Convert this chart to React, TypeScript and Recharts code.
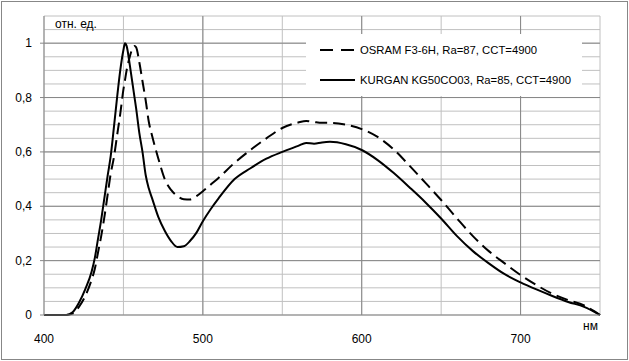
import React from 'react';
import { LineChart, Line, XAxis, YAxis, CartesianGrid, ReferenceLine, Legend, Label } from 'recharts';

const wavelengths = [400, 405, 410, 414, 418, 422, 426, 430, 432, 434, 436, 438, 440, 442, 444, 446, 448, 450, 451, 452, 454, 456, 457, 458, 460, 462, 464, 466, 468, 472, 476, 480, 484, 488, 492, 496, 500, 505, 510, 520, 530, 540, 550, 560, 565, 570, 575, 580, 590, 600, 610, 620, 630, 640, 650, 660, 670, 680, 690, 700, 710, 720, 730, 740, 750];
const osram = [0, 0, 0, 0, 0.005, 0.03, 0.07, 0.13, 0.17, 0.23, 0.29, 0.36, 0.44, 0.52, 0.58, 0.66, 0.74, 0.83, 0.865, 0.9, 0.95, 0.985, 0.99, 0.985, 0.93, 0.86, 0.79, 0.71, 0.66, 0.575, 0.5, 0.46, 0.437, 0.426, 0.425, 0.437, 0.455, 0.48, 0.505, 0.56, 0.607, 0.65, 0.688, 0.708, 0.714, 0.71, 0.707, 0.707, 0.7, 0.684, 0.655, 0.61, 0.55, 0.487, 0.423, 0.355, 0.29, 0.235, 0.19, 0.147, 0.11, 0.078, 0.055, 0.035, 0];
const kurgan = [0, 0, 0, 0, 0.01, 0.045, 0.095, 0.16, 0.21, 0.28, 0.35, 0.43, 0.51, 0.585, 0.69, 0.8, 0.9, 0.975, 1.0, 0.99, 0.92, 0.84, 0.8, 0.76, 0.67, 0.6, 0.515, 0.465, 0.43, 0.36, 0.31, 0.272, 0.25, 0.253, 0.273, 0.303, 0.345, 0.39, 0.43, 0.5, 0.54, 0.575, 0.6, 0.622, 0.633, 0.63, 0.635, 0.637, 0.628, 0.607, 0.57, 0.523, 0.47, 0.415, 0.355, 0.29, 0.235, 0.19, 0.15, 0.12, 0.094, 0.07, 0.048, 0.03, 0];

const seriesNames = ['OSRAM F3-6H, Ra=87, CCT=4900', 'KURGAN KG50CO03, Ra=85, CCT=4900'];
const xTicks = [400, 450, 500, 550, 600, 650, 700, 750];
const xLabels = [400, 500, 600, 700];
const yTicks = [0, 0.05, 0.1, 0.15, 0.2, 0.25, 0.3, 0.35, 0.4, 0.45, 0.5, 0.55, 0.6, 0.65, 0.7, 0.75, 0.8, 0.85, 0.9, 0.95, 1, 1.05, 1.1];
const yLabels = [0, 0.2, 0.4, 0.6, 0.8, 1];
const xMajor = [500, 600, 700];
const yMajor = [0.2, 0.4, 0.6, 0.8, 1];
const yUnit = 'отн. ед.';
const xUnit = 'нм';

const data = wavelengths.map((nm, i) => ({ nm, osram: osram[i], kurgan: kurgan[i] }));

const FONT = '"Liberation Sans", Arial, sans-serif';
const MINOR = '#c0c0c0';
const MAJOR = '#878787';

const XTick = (props: any) => {
  const { x, y, payload } = props;
  if (!xLabels.includes(payload.value)) return <g />;
  return (
    <text x={x} y={y} dy="0.71em" textAnchor="middle" fontSize={12} fill="#000" fontFamily={FONT}>
      {payload.value}
    </text>
  );
};

const YTick = (props: any) => {
  const { x, y, payload } = props;
  const isLabel = yLabels.some((v) => Math.abs(v - payload.value) < 1e-9);
  if (!isLabel) return <g />;
  return (
    <g>
      <line x1={x + 8} y1={y} x2={x + 12} y2={y} stroke={MAJOR} strokeWidth={1} />
      <text x={x} y={y} dy="0.35em" textAnchor="end" fontSize={12} fill="#000" fontFamily={FONT}>
        {String(payload.value).replace('.', ',')}
      </text>
    </g>
  );
};

const renderLegend = () => (
  <svg width={276} height={62} style={{ display: 'block' }}>
    <rect x={0} y={0} width={276} height={62} fill="#fff" />
    <line x1={14} y1={16} x2={49} y2={16} stroke="#000" strokeWidth={2} strokeDasharray="13 8" />
    <text x={54} y={20} fontSize={11.3} fill="#000" fontFamily={FONT}>{seriesNames[0]}</text>
    <line x1={14} y1={46} x2={49} y2={46} stroke="#000" strokeWidth={2} />
    <text x={54} y={50} fontSize={11.3} fill="#000" fontFamily={FONT}>{seriesNames[1]}</text>
  </svg>
);

export default function App() {
  return (
    <div style={{ position: 'absolute', left: 0, top: 0, width: 629, height: 361, background: '#fff' }}>
      <LineChart
        width={629}
        height={361}
        data={data}
        margin={{ top: 16, right: 29, bottom: 16, left: 0 }}
      >
        <CartesianGrid stroke={MINOR} strokeWidth={1} />
        {xMajor.map((v) => (
          <ReferenceLine key={'x' + v} x={v} stroke={MAJOR} strokeWidth={1} />
        ))}
        {yMajor.map((v) => (
          <ReferenceLine key={'y' + v} y={v} stroke={MAJOR} strokeWidth={1} />
        ))}
        <XAxis
          dataKey="nm"
          type="number"
          domain={[400, 750]}
          ticks={xTicks}
          interval={0}
          height={30}
          tickSize={0}
          tickMargin={19}
          tickLine={false}
          axisLine={{ stroke: MAJOR }}
          tick={<XTick />}
        >
          <Label
            content={(p: any) => {
              const vb = p.viewBox;
              return (
                <text x={vb.x + vb.width - 2} y={vb.y + 15} textAnchor="end" fontSize={12} fill="#000" fontFamily={FONT}>
                  {xUnit}
                </text>
              );
            }}
          />
        </XAxis>
        <YAxis
          type="number"
          domain={[0, 1.1]}
          ticks={yTicks}
          interval={0}
          width={44}
          tickSize={4}
          tickMargin={8}
          tickLine={false}
          axisLine={{ stroke: MAJOR }}
          tick={<YTick />}
        >
          <Label
            content={(p: any) => {
              const vb = p.viewBox;
              return (
                <text x={vb.x + vb.width + 11} y={vb.y + 12} fontSize={12} fill="#000" fontFamily={FONT}>
                  {yUnit}
                </text>
              );
            }}
          />
        </YAxis>
        <Legend
          verticalAlign="middle"
          align="center"
          content={renderLegend}
          wrapperStyle={{ left: 306, top: 34, width: 276, height: 62 }}
        />
        <Line
          dataKey="osram"
          name={seriesNames[0]}
          type="monotone"
          stroke="#000"
          strokeWidth={2}
          strokeDasharray="12 6"
          dot={false}
          activeDot={false}
          isAnimationActive={false}
        />
        <Line
          dataKey="kurgan"
          name={seriesNames[1]}
          type="monotone"
          stroke="#000"
          strokeWidth={2}
          dot={false}
          activeDot={false}
          isAnimationActive={false}
        />
      </LineChart>
      <div
        style={{
          position: 'absolute',
          left: 1,
          top: 1,
          width: 627,
          height: 359,
          boxSizing: 'border-box',
          border: '1px solid ' + MAJOR,
          pointerEvents: 'none',
        }}
      />
    </div>
  );
}
